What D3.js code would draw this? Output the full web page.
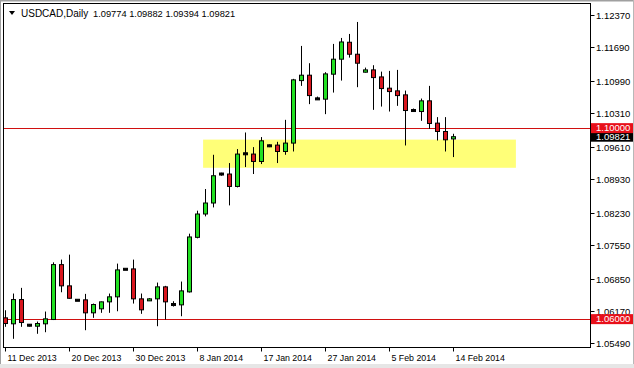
<!DOCTYPE html>
<html><head><meta charset="utf-8">
<script src="https://cdn.jsdelivr.net/npm/d3@7"></script>
<style>html,body{margin:0;padding:0;background:#fff;}svg{display:block;}</style>
</head><body>
<script>
const symbolTitle = "USDCAD,Daily";
const lastBar = ["1.09774", "1.09882", "1.09394", "1.09821"];
const openP  = [1.06027,1.05902,1.06410,1.05873,1.05852,1.05902,1.05992,1.07142,1.06697,1.06395,1.06404,1.06132,1.06216,1.06362,1.06467,1.07044,1.07052,1.06425,1.06383,1.06425,1.06676,1.06306,1.06299,1.06571,1.07713,1.08202,1.08432,1.09039,1.09039,1.08779,1.09463,1.09457,1.09302,1.09630,1.09645,1.09511,1.09687,1.10996,1.11109,1.10613,1.10607,1.11130,1.11444,1.11799,1.11548,1.11172,1.11220,1.11073,1.10837,1.10781,1.10697,1.10369,1.10348,1.10572,1.10105,1.09930,1.09774];
const highP  = [1.06186,1.06536,1.06655,1.05898,1.05950,1.06159,1.07190,1.07247,1.07351,1.06405,1.06529,1.06326,1.06368,1.06536,1.07163,1.07050,1.07247,1.06536,1.06441,1.06766,1.06697,1.06375,1.06787,1.07790,1.08271,1.08725,1.09442,1.09066,1.09269,1.09562,1.09909,1.09603,1.09813,1.09658,1.09714,1.10174,1.11032,1.11722,1.11360,1.10661,1.11172,1.11764,1.11889,1.11973,1.12224,1.11268,1.11318,1.11184,1.11199,1.11220,1.10787,1.10411,1.10620,1.10885,1.10231,1.10231,1.09882];
const lowP   = [1.05839,1.05588,1.05839,1.05846,1.05693,1.05726,1.05981,1.06563,1.06431,1.06385,1.05768,1.06027,1.06132,1.06132,1.06165,1.07040,1.06326,1.06111,1.06379,1.05852,1.05992,1.06264,1.06061,1.06557,1.07692,1.08152,1.08340,1.09003,1.08382,1.08759,1.09185,1.09039,1.09248,1.09603,1.09269,1.09442,1.09511,1.10885,1.10503,1.10593,1.10293,1.10745,1.10996,1.11477,1.10858,1.11165,1.10383,1.10452,1.10348,1.10467,1.09637,1.10342,1.10153,1.09986,1.09741,1.09511,1.09394];
const closeP = [1.05908,1.06410,1.05929,1.05873,1.05908,1.06006,1.07142,1.06697,1.06437,1.06395,1.06132,1.06306,1.06362,1.06467,1.07031,1.07044,1.06425,1.06195,1.06425,1.06676,1.06362,1.06306,1.06592,1.07721,1.08202,1.08432,1.09003,1.09039,1.08779,1.09457,1.09463,1.09302,1.09735,1.09630,1.09511,1.09687,1.11011,1.11109,1.10682,1.10613,1.11136,1.11444,1.11805,1.11548,1.11360,1.11220,1.11059,1.10829,1.10766,1.10682,1.10369,1.10369,1.10572,1.10097,1.09930,1.09756,1.09821];
const xTickIndex = [0, 8, 16, 24, 32, 40, 48, 56];
const xTickLabels = ["11 Dec 2013","20 Dec 2013","30 Dec 2013","8 Jan 2014","17 Jan 2014","27 Jan 2014","5 Feb 2014","14 Feb 2014"];
const yTickValues = [1.12370,1.11690,1.10990,1.10310,1.09610,1.08930,1.08230,1.07550,1.06850,1.06170,1.05490];
const hLevels = [1.10000, 1.06000];
const zoneBars = [24.7, 63.8];
const zonePrices = [1.0917, 1.0976];
const priceDomain = [1.05406, 1.12600];

const W = 634, H = 368;
const frame = {l: 3.5, r: 590.5, t: 3.5, b: 347.5};
const svg = d3.select("body").append("svg").attr("width", W).attr("height", H)
  .style("font-family", "'Liberation Sans', Arial, sans-serif");
svg.append("rect").attr("x",0).attr("y",0).attr("width",W).attr("height",H).attr("fill","#fff");
// window border
svg.append("rect").attr("x",0).attr("y",364).attr("width",W).attr("height",4).attr("fill","#e6e6e6");
svg.append("line").attr("x1",0).attr("x2",W).attr("y1",0.5).attr("y2",0.5).attr("stroke","#a0a0a0").attr("stroke-width",2);
svg.append("line").attr("x1",0.5).attr("x2",0.5).attr("y1",0).attr("y2",364).attr("stroke","#a0a0a0");
svg.append("line").attr("x1",633.5).attr("x2",633.5).attr("y1",0).attr("y2",364).attr("stroke","#b8b8b8");

const x = d3.scaleLinear().domain([0, 56]).range([5.5, 453.5]);
const y = d3.scaleLinear().domain(priceDomain).range([frame.b, frame.t + 0.5]);

svg.append("clipPath").attr("id","plot").append("rect")
  .attr("x", frame.l).attr("y", frame.t).attr("width", frame.r - frame.l).attr("height", frame.b - frame.t);
const plot = svg.append("g").attr("clip-path","url(#plot)");

// support zone
plot.append("rect")
  .attr("x", x(zoneBars[0])).attr("width", x(zoneBars[1]) - x(zoneBars[0]))
  .attr("y", y(zonePrices[1])).attr("height", y(zonePrices[0]) - y(zonePrices[1]))
  .attr("fill", "#ffff78");

// horizontal levels
plot.selectAll("line.lvl").data(hLevels).enter().append("line")
  .attr("x1", frame.l).attr("x2", frame.r)
  .attr("y1", d => Math.round(y(d)) + 0.5).attr("y2", d => Math.round(y(d)) + 0.5)
  .attr("stroke", "#d01010").attr("stroke-width", 1);

const bars = openP.map((o, i) => ({i, o, h: highP[i], l: lowP[i], c: closeP[i]}));
const g = plot.selectAll("g.c").data(bars).enter().append("g");
g.append("line")
  .attr("x1", d => x(d.i)).attr("x2", d => x(d.i))
  .attr("y1", d => y(d.h)).attr("y2", d => y(d.l))
  .attr("stroke", "#000").attr("stroke-width", 1);
g.append("rect")
  .attr("x", d => x(d.i) - 2).attr("width", 4)
  .attr("y", d => d.o === d.c ? y(d.o) - 1 : y(Math.max(d.o, d.c)))
  .attr("height", d => d.o === d.c ? 2 : Math.max(1.5, Math.abs(y(d.o) - y(d.c))))
  .attr("fill", d => d.o === d.c ? "#000" : (d.c > d.o ? "#22e022" : "#d8161e"))
  .attr("stroke", "#000").attr("stroke-width", 1);

// frame
svg.append("rect").attr("x", frame.l).attr("y", frame.t)
  .attr("width", frame.r - frame.l).attr("height", frame.b - frame.t)
  .attr("fill", "none").attr("stroke", "#000");

// y axis
const yAxis = svg.append("g");
yTickValues.forEach(v => {
  const yy = Math.round(y(v)) + 0.5;
  yAxis.append("line").attr("x1", frame.r).attr("x2", frame.r + 4).attr("y1", yy).attr("y2", yy).attr("stroke", "#000");
  yAxis.append("text").attr("x", 596).attr("y", yy).attr("dy", "0.35em")
    .attr("font-size", "9.5px").attr("fill", "#000").text(v.toFixed(5));
});

// price tags
function tag(v, bg) {
  const yy = y(v);
  svg.append("rect").attr("x", 591).attr("y", yy - 5).attr("width", 42).attr("height", 10).attr("fill", bg);
  svg.append("text").attr("x", 596).attr("y", yy).attr("dy", "0.35em")
    .attr("font-size", "9.5px").attr("fill", "#fff").text(v.toFixed(5));
}
tag(closeP[closeP.length - 1], "#000");
hLevels.forEach(v => tag(v, "#e8101a"));

// x axis
const xAxis = svg.append("g");
xTickIndex.forEach((idx, k) => {
  const xx = Math.floor(x(idx)) + 0.5;
  xAxis.append("line").attr("x1", xx).attr("x2", xx).attr("y1", frame.b).attr("y2", frame.b + 4).attr("stroke", "#000");
  xAxis.append("text").attr("x", xx + 2).attr("y", 360.5)
    .attr("font-size", "8.8px").attr("fill", "#000").text(xTickLabels[k]);
});

// header
svg.append("path").attr("d", "M9,11 L15,11 L12,15 Z").attr("fill", "#000");
svg.append("text").attr("x", 21).attr("y", 16.5).attr("font-size", "10px").attr("fill", "#000").text(symbolTitle);
svg.append("text").attr("x", 93).attr("y", 16.5).attr("font-size", "9.3px").attr("fill", "#000")
  .text(lastBar.join(" "));
</script>
</body></html>
